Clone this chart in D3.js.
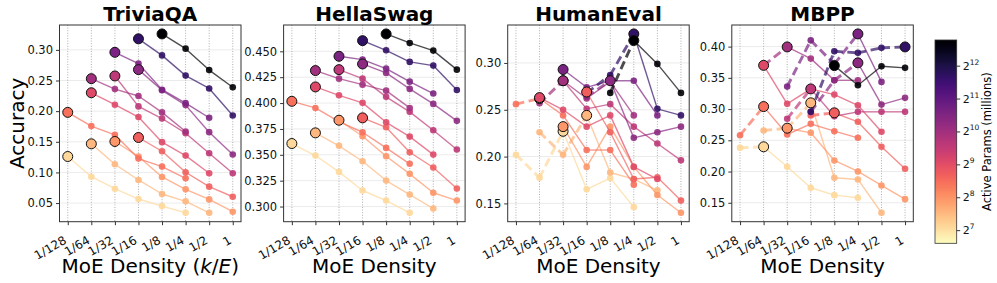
<!DOCTYPE html>
<html>
<head>
<meta charset="utf-8">
<script src="https://cdn.jsdelivr.net/npm/d3@7"></script>
<style>
body { margin: 0; background: #fff; }
text { font-family: "DejaVu Sans", sans-serif; }
</style>
</head>
<body>
<svg id="chart" width="997" height="283"></svg>
<script>
// x categories (density k/E as powers of two)
const densityLabels = ["1/128", "1/64", "1/32", "1/16", "1/8", "1/4", "1/2", "1"];
const densityExp = [-7, -6, -5, -4, -3, -2, -1, 0];

// active params (millions) of each model series
const activeParams = [136, 185, 250, 350, 415, 540, 760, 1020, 1270, 1510, 3260, 7030];
const cbarTicks = [7, 8, 9, 10, 11, 12];

// accuracy per series, one value per density (null = not trained)
const triviaqaAcc = [
    [0.126, 0.093, 0.0735, 0.0566, 0.0451, 0.0342, null, null],
    [null, 0.1467, 0.1133, 0.0877, 0.0648, 0.0528, 0.0342, null],
    [null, null, 0.1505, 0.126, 0.0926, 0.0724, 0.056, 0.0359],
    [0.198, 0.1756, 0.1614, 0.1226, 0.1095, 0.0904, null, null],
    [null, null, null, 0.157, 0.1346, 0.1003, 0.0768, 0.0603],
    [null, 0.230, 0.2105, 0.1903, 0.1494, 0.1275, 0.0986, null],
    [null, null, 0.2574, 0.2078, 0.188, 0.164, 0.1314, 0.0986],
    [null, 0.253, 0.236, 0.2247, 0.198, 0.1668, null, null],
    [null, null, null, 0.2678, 0.234, 0.2099, 0.1657, 0.1292],
    [null, null, 0.296, 0.2776, 0.235, 0.2132, 0.1892, null],
    [null, null, null, 0.318, 0.291, 0.258, 0.237, 0.193],
    [null, null, null, null, 0.326, 0.302, 0.267, 0.239]
];
const triviaqaBest = [0, 1, 2, 0, 3, 1, 2, 1, 3, 2, 3, 4];

const hellaswagAcc = [
    [0.3609, 0.3493, 0.3335, 0.3155, 0.3058, 0.294, null, null],
    [null, 0.3712, 0.3587, 0.3438, 0.3251, 0.3116, 0.2981, null],
    [null, null, 0.3834, 0.3679, 0.3486, 0.3316, 0.3133, 0.3058],
    [0.4017, 0.3953, 0.382, 0.3718, 0.3567, 0.3413, null, null],
    [null, null, null, 0.3857, 0.3766, 0.3525, 0.3377, 0.3174],
    [null, 0.4156, 0.4075, 0.4002, 0.3814, 0.3676, 0.3502, null],
    [null, null, 0.4323, 0.4236, 0.406, 0.3915, 0.3737, 0.3551],
    [null, 0.4314, 0.4236, 0.4178, 0.412, 0.3953, null, null],
    [null, null, null, 0.4378, 0.4291, 0.4137, 0.3992, 0.3828],
    [null, null, 0.4452, 0.442, 0.4333, 0.4207, 0.4092, null],
    [null, null, null, 0.4603, 0.451, 0.4398, 0.4362, 0.4127],
    [null, null, null, null, 0.4668, 0.4581, 0.4507, 0.4323]
];
const hellaswagBest = [0, 1, 2, 0, 3, 1, 2, 1, 3, 2, 3, 4];

const humanevalAcc = [
    [0.202, 0.1775, 0.227, 0.165, 0.177, 0.146, null, null],
    [null, 0.226, 0.202, 0.244, 0.183, 0.176, 0.164, null],
    [null, null, 0.232, 0.189, 0.232, 0.189, 0.159, 0.140],
    [0.256, 0.262, 0.244, 0.207, 0.207, 0.170, null, null],
    [null, null, null, 0.269, 0.226, 0.176, 0.178, 0.153],
    [null, 0.263, 0.250, 0.232, 0.244, 0.189, 0.176, null],
    [null, null, 0.281, 0.251, 0.256, 0.232, 0.214, 0.196],
    [null, 0.257, 0.281, 0.262, 0.280, 0.244, null, null],
    [null, null, null, 0.264, 0.281, 0.220, 0.226, 0.232],
    [null, null, 0.293, 0.274, 0.281, 0.281, 0.244, null],
    [null, null, null, 0.268, 0.287, 0.331, 0.251, 0.244],
    [null, null, null, null, 0.268, 0.324, 0.299, 0.268]
];
const humanevalBest = [2, 3, 2, 1, 3, 1, 2, 2, 4, 2, 5, 5];

const mbppAcc = [
    [0.238, 0.2396, 0.2076, 0.174, 0.1622, 0.158, null, null],
    [null, 0.2657, 0.2694, 0.310, 0.190, 0.1873, 0.134, null],
    [null, null, 0.2694, 0.262, 0.2177, 0.2001, 0.1777, 0.1558],
    [0.2582, 0.304, 0.2593, 0.2764, 0.2646, 0.254, null, null],
    [null, null, null, 0.2897, 0.294, 0.2796, 0.2396, 0.2044],
    [null, 0.370, 0.3084, 0.3323, 0.3232, 0.3061, 0.2636, null],
    [null, null, 0.2844, 0.3323, 0.2885, 0.2956, 0.2956, 0.2956],
    [null, 0.370, 0.3995, 0.3808, 0.3461, 0.3461, null, null],
    [null, null, null, 0.2956, 0.3461, 0.374, 0.3072, 0.318],
    [null, null, 0.336, 0.410, 0.372, 0.4203, 0.3435, null],
    [null, null, null, 0.2956, 0.3925, 0.390, 0.398, 0.3995],
    [null, null, null, null, 0.3696, 0.3381, 0.3685, 0.366]
];
const mbppBest = [1, 3, 2, 1, 4, 1, 3, 2, 5, 5, 7, 4];

const titles = ["TriviaQA", "HellaSwag", "HumanEval", "MBPP"];
const yTicksTrivia = [0.05, 0.10, 0.15, 0.20, 0.25, 0.30];
const yTicksHella = [0.300, 0.325, 0.350, 0.375, 0.400, 0.425, 0.450];
const yTicksHuman = [0.15, 0.20, 0.25, 0.30];
const yTicksMbpp = [0.15, 0.20, 0.25, 0.30, 0.35, 0.40];

const panels = [
    { acc: triviaqaAcc, best: triviaqaBest, ticks: yTicksTrivia, fmt: d3.format('.2f') },
    { acc: hellaswagAcc, best: hellaswagBest, ticks: yTicksHella, fmt: d3.format('.3f') },
    { acc: humanevalAcc, best: humanevalBest, ticks: yTicksHuman, fmt: d3.format('.2f') },
    { acc: mbppAcc, best: mbppBest, ticks: yTicksMbpp, fmt: d3.format('.2f') }
];

// layout
const plotTop = 25;
const plotBottom = 221.7;
const plotW = 181.5;
const panelStep = 224.1;
const firstLeft = 59.5;

const logMin = 6.6;
const logMax = 12.78;
const colorOf = v => d3.interpolateMagma(1 - (Math.log2(v) - logMin) / (logMax - logMin));

const svg = d3.select('#chart');

panels.forEach((p, i) => {
    const left = firstLeft + i * panelStep;
    const g = svg.append('g');

    const xPad = 0.05 * (d3.max(densityExp) - d3.min(densityExp));
    const x = d3.scaleLinear()
        .domain([d3.min(densityExp) - xPad, d3.max(densityExp) + xPad])
        .range([left, left + plotW]);

    const all = p.acc.flat().filter(v => v != null);
    const lo = d3.min(all), hi = d3.max(all);
    const yPad = 0.05 * (hi - lo);
    const y = d3.scaleLinear()
        .domain([lo - yPad, hi + yPad])
        .range([plotBottom, plotTop]);

    // grid
    g.append('g').selectAll('line')
        .data(p.ticks)
        .enter().append('line')
        .attr('x1', left).attr('x2', left + plotW)
        .attr('y1', d => y(d)).attr('y2', d => y(d))
        .attr('stroke', '#e6e6e6').attr('stroke-width', 0.8);
    g.append('g').selectAll('line')
        .data(densityExp)
        .enter().append('line')
        .attr('x1', d => x(d)).attr('x2', d => x(d))
        .attr('y1', plotTop).attr('y2', plotBottom)
        .attr('stroke', '#9a9a9a').attr('stroke-width', 0.8)
        .attr('stroke-dasharray', '1,1.6');

    // series
    const bigs = [];
    p.acc.forEach((vals, s) => {
        const col = colorOf(activeParams[s]);
        const pts = vals.map((v, j) => v == null ? null : { j, v }).filter(d => d);
        const b = p.best[s];
        for (let k = 0; k < pts.length - 1; k++) {
            const a = pts[k], c = pts[k + 1];
            const dashed = c.j <= b;
            g.append('line')
                .attr('x1', x(densityExp[a.j])).attr('y1', y(a.v))
                .attr('x2', x(densityExp[c.j])).attr('y2', y(c.v))
                .attr('stroke', col)
                .attr('stroke-opacity', 0.7)
                .attr('stroke-width', dashed ? 2.9 : 1.4)
                .attr('stroke-dasharray', dashed ? '8.5,4.5' : null);
        }
        g.append('g').selectAll('circle')
            .data(pts.filter(d => d.j !== b))
            .enter().append('circle')
            .attr('cx', d => x(densityExp[d.j]))
            .attr('cy', d => y(d.v))
            .attr('r', 3.3)
            .attr('fill', col)
            .attr('fill-opacity', 0.9);
        if (vals[b] != null) bigs.push({ j: b, v: vals[b], col });
    });

    g.append('g').selectAll('circle')
        .data(bigs)
        .enter().append('circle')
        .attr('cx', d => x(densityExp[d.j]))
        .attr('cy', d => y(d.v))
        .attr('r', 5)
        .attr('fill', d => d.col)
        .attr('stroke', '#111')
        .attr('stroke-width', 1);

    // frame
    g.append('rect')
        .attr('x', left).attr('y', plotTop)
        .attr('width', plotW).attr('height', plotBottom - plotTop)
        .attr('fill', 'none').attr('stroke', '#333').attr('stroke-width', 1);

    // y axis
    const yAxis = g.append('g')
        .attr('transform', `translate(${left},0)`)
        .call(d3.axisLeft(y).tickValues(p.ticks).tickFormat(p.fmt).tickSize(3.5).tickPadding(3));
    yAxis.select('.domain').remove();
    yAxis.selectAll('line').attr('stroke', '#333');
    yAxis.selectAll('text').attr('font-size', 11.5).attr('fill', '#111')
        .style('font-family', '"DejaVu Sans", sans-serif');

    // x axis
    const xAxis = g.append('g')
        .attr('transform', `translate(0,${plotBottom})`)
        .call(d3.axisBottom(x).tickValues(densityExp).tickFormat((d, k) => densityLabels[k]).tickSize(3.5));
    xAxis.select('.domain').remove();
    xAxis.selectAll('line').attr('stroke', '#333');
    xAxis.selectAll('text')
        .attr('font-size', 12).attr('fill', '#111')
        .style('font-family', '"DejaVu Sans", sans-serif')
        .attr('text-anchor', 'end')
        .attr('y', 0).attr('dy', 0)
        .attr('transform', 'translate(-1,21) rotate(-30)');

    // title
    g.append('text')
        .attr('x', left + plotW / 2).attr('y', 20.5)
        .attr('text-anchor', 'middle')
        .attr('font-size', 20).attr('font-weight', 'bold')
        .text(titles[i]);

    // x label
    const xl = g.append('text')
        .attr('x', left + plotW / 2).attr('y', 273)
        .attr('text-anchor', 'middle')
        .attr('font-size', 20);
    if (i === 0) {
        xl.append('tspan').text('MoE Density (');
        xl.append('tspan').attr('font-style', 'italic').text('k');
        xl.append('tspan').text('/');
        xl.append('tspan').attr('font-style', 'italic').text('E');
        xl.append('tspan').text(')');
    } else {
        xl.text('MoE Density');
    }
});

// y label
svg.append('text')
    .attr('transform', `translate(24,${(plotTop + plotBottom) / 2}) rotate(-90)`)
    .attr('text-anchor', 'middle')
    .attr('font-size', 20)
    .text('Accuracy');

// colorbar
const cbX = 935, cbW = 21.7, cbTop = 40, cbBottom = 243.3;
const grad = svg.append('defs').append('linearGradient')
    .attr('id', 'magmaGrad')
    .attr('x1', 0).attr('y1', 1).attr('x2', 0).attr('y2', 0);
d3.range(0, 1.0001, 0.025).forEach(t => {
    grad.append('stop')
        .attr('offset', t)
        .attr('stop-color', d3.interpolateMagma(1 - t));
});
svg.append('rect')
    .attr('x', cbX).attr('y', cbTop)
    .attr('width', cbW).attr('height', cbBottom - cbTop)
    .attr('fill', 'url(#magmaGrad)')
    .attr('stroke', '#333').attr('stroke-width', 0.8);

const cbScale = d3.scaleLinear().domain([logMin, logMax]).range([cbBottom, cbTop]);
const cbAxis = svg.append('g')
    .attr('transform', `translate(${cbX + cbW},0)`)
    .call(d3.axisRight(cbScale).tickValues(cbarTicks).tickFormat('').tickSize(3.5));
cbAxis.select('.domain').remove();
cbAxis.selectAll('line').attr('stroke', '#333');
cbarTicks.forEach(e => {
    const t = svg.append('text')
        .attr('x', cbX + cbW + 6)
        .attr('y', cbScale(e) + 4)
        .attr('font-size', 11)
        .attr('fill', '#111');
    t.append('tspan').text('2');
    t.append('tspan').attr('dy', -5).attr('font-size', 7.5).text(e);
});
svg.append('text')
    .attr('transform', `translate(991,${(cbTop + cbBottom) / 2}) rotate(-90)`)
    .attr('text-anchor', 'middle')
    .attr('font-size', 11.5)
    .text('Active Params (millions)');
</script>
</body>
</html>
